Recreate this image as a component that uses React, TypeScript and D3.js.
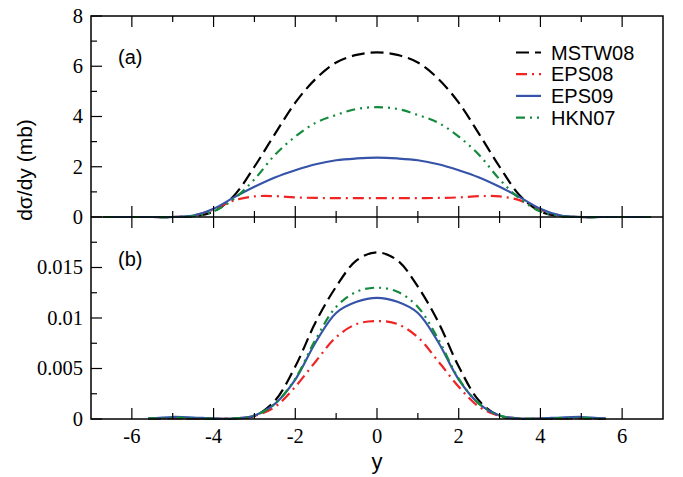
import React from "react";
import * as d3 from "d3";

// ---------- data ----------
const xA = [-6.7, -6, -5.5, -5, -4.5, -4, -3.5, -3, -2.5, -2, -1.5, -1, -0.5, 0, 0.5, 1, 1.5, 2, 2.5, 3, 3.5, 4, 4.5, 5, 5.5, 6, 6.7];
const mstwA = [0, 0, 0, 0, 0.03, 0.22, 0.85, 2.0, 3.3, 4.55, 5.5, 6.15, 6.45, 6.55, 6.45, 6.15, 5.5, 4.55, 3.3, 2.0, 0.85, 0.22, 0.03, 0, 0, 0, 0];
const eps08A = [0, 0, 0, 0, 0.05, 0.3, 0.66, 0.82, 0.83, 0.78, 0.76, 0.75, 0.75, 0.75, 0.75, 0.75, 0.76, 0.78, 0.83, 0.82, 0.66, 0.3, 0.05, 0, 0, 0, 0];
const eps09A = [0, 0, 0, 0, 0.06, 0.33, 0.78, 1.2, 1.57, 1.86, 2.1, 2.26, 2.33, 2.36, 2.33, 2.26, 2.1, 1.86, 1.57, 1.2, 0.78, 0.33, 0.06, 0, 0, 0, 0];
const hknA = [0, 0, 0, 0, 0.03, 0.22, 0.72, 1.5, 2.47, 3.2, 3.75, 4.06, 4.3, 4.37, 4.3, 4.06, 3.75, 3.2, 2.47, 1.5, 0.72, 0.22, 0.03, 0, 0, 0, 0];

const xB = [-5.6, -5, -4.5, -4, -3.5, -3, -2.5, -2, -1.5, -1, -0.5, 0, 0.5, 1, 1.5, 2, 2.5, 3, 3.5, 4, 4.5, 5, 5.6];
const mstwB = [0.00002, 0.00008, 0.00005, 0.00002, 0.00003, 0.0003, 0.0018, 0.0052, 0.0096, 0.0131, 0.0157, 0.0165, 0.0157, 0.0131, 0.0096, 0.0052, 0.0018, 0.0003, 0.00003, 0.00002, 0.00005, 0.00008, 0.00002];
const eps08B = [0.00002, 0.00008, 0.00005, 0.00003, 0.00005, 0.0003, 0.0012, 0.0032, 0.0057, 0.0081, 0.0094, 0.0097, 0.0094, 0.0081, 0.0057, 0.0032, 0.0012, 0.0003, 0.00005, 0.00003, 0.00005, 0.00008, 0.00002];
const eps09B = [0.00005, 0.0002, 0.00015, 0.00005, 0.00005, 0.00035, 0.0015, 0.0039, 0.0076, 0.0105, 0.0116, 0.012, 0.0116, 0.0105, 0.0076, 0.0039, 0.0015, 0.00035, 0.00005, 0.00005, 0.00015, 0.0002, 0.00005];
const hknB = [0.00003, 0.00012, 0.00008, 0.00003, 0.00005, 0.00035, 0.0015, 0.004, 0.0079, 0.0111, 0.0126, 0.013, 0.0126, 0.0111, 0.0079, 0.004, 0.0015, 0.00035, 0.00005, 0.00003, 0.00008, 0.00012, 0.00003];

const seriesNames = ["MSTW08", "EPS08", "EPS09", "HKN07"];
const xTicksMajor = [-6, -4, -2, 0, 2, 4, 6];
const xTicksMinor = [-5, -3, -1, 1, 3, 5];
const yTicksA = [0, 2, 4, 6, 8];
const yMinorA = [1, 3, 5, 7];
const yTicksB = [0, 0.005, 0.01, 0.015];
const yTickLabelsB = ["0", "0.005", "0.01", "0.015"];
const yMinorB = [0.0025, 0.0075, 0.0125, 0.0175];

// ---------- styles ----------
const colors = ["#000000", "#f02424", "#3553a8", "#148a3c"];
const dashes = ["13,6", "11,5,2,5", "", "9,5,2,5,2,5"];

const L = 91, R = 663, T = 16, M = 217, B = 419;

export default function App() {
  const x = d3.scaleLinear().domain([-7, 7]).range([L, R]);
  const yA = d3.scaleLinear().domain([0, 8]).range([M, T]);
  const yB = d3.scaleLinear().domain([0, 0.02]).range([B, M]);

  const seriesA = [mstwA, eps08A, eps09A, hknA];
  const seriesB = [mstwB, eps08B, eps09B, hknB];

  const curve = d3.curveCatmullRom.alpha(0.5);
  const lineA = (vals: number[]) =>
    d3.line<number>().x((_, i) => x(xA[i])).y((v) => yA(v)).curve(curve)(vals) || "";
  const lineB = (vals: number[]) =>
    d3.line<number>().x((_, i) => x(xB[i])).y((v) => yB(v)).curve(curve)(vals) || "";

  const serifFont = "'Liberation Serif', 'DejaVu Serif', 'Times New Roman', Times, serif";
  const sansFont = "'Liberation Sans', Arial, Helvetica, sans-serif";
  const maj = 11, mnr = 6;

  return (
    <svg width={683} height={477} style={{ position: "absolute", left: 0, top: 0, background: "#fff" }}>
      <rect x={0} y={0} width={683} height={477} fill="#fff" />
      {/* curves panel a */}
      {seriesA.map((s, i) => (
        <path key={"a" + i} d={lineA(s)} fill="none" stroke={colors[i]} strokeWidth={2.2}
          strokeDasharray={dashes[i] || undefined} />
      ))}
      {/* curves panel b */}
      {seriesB.map((s, i) => (
        <path key={"b" + i} d={lineB(s)} fill="none" stroke={colors[i]} strokeWidth={2.2}
          strokeDasharray={dashes[i] || undefined} />
      ))}

      {/* frames */}
      <rect x={L} y={T} width={R - L} height={B - T} fill="none" stroke="#000" strokeWidth={1.5} />
      <line x1={L} x2={R} y1={M} y2={M} stroke="#000" strokeWidth={1.5} />

      {/* x ticks */}
      {xTicksMajor.map((t) => (
        <g key={"xm" + t} stroke="#000" strokeWidth={1.2}>
          <line x1={x(t)} x2={x(t)} y1={T} y2={T + maj} />
          <line x1={x(t)} x2={x(t)} y1={M - maj} y2={M + maj} />
          <line x1={x(t)} x2={x(t)} y1={B} y2={B - maj} />
        </g>
      ))}
      {xTicksMinor.map((t) => (
        <g key={"xn" + t} stroke="#000" strokeWidth={1.2}>
          <line x1={x(t)} x2={x(t)} y1={T} y2={T + mnr} />
          <line x1={x(t)} x2={x(t)} y1={M - mnr} y2={M + mnr} />
          <line x1={x(t)} x2={x(t)} y1={B} y2={B - mnr} />
        </g>
      ))}
      <g fontFamily={serifFont} fontSize={20.5} fill="#000">
        {xTicksMajor.map((t) => (
          <text key={"xl" + t} x={x(t)} y={443} textAnchor="middle" fontFamily={serifFont}>
            {t < 0 ? "-" + Math.abs(t) : String(t)}
          </text>
        ))}
        {yTicksA.map((t) => (
          <text key={"yal" + t} x={83} y={yA(t)} dy="0.34em" textAnchor="end" fontFamily={serifFont}>{t}</text>
        ))}
        {yTicksB.map((t, i) => (
          <text key={"ybl" + t} x={83} y={yB(t)} dy="0.34em" textAnchor="end" fontFamily={serifFont}>{yTickLabelsB[i]}</text>
        ))}
      </g>

      {/* y ticks */}
      {yTicksA.map((t) => (
        <line key={"ya" + t} x1={L} x2={L + maj} y1={yA(t)} y2={yA(t)} stroke="#000" strokeWidth={1.2} />
      ))}
      {yMinorA.map((t) => (
        <line key={"yan" + t} x1={L} x2={L + mnr} y1={yA(t)} y2={yA(t)} stroke="#000" strokeWidth={1.2} />
      ))}
      {yTicksB.map((t) => (
        <line key={"yb" + t} x1={L} x2={L + maj} y1={yB(t)} y2={yB(t)} stroke="#000" strokeWidth={1.2} />
      ))}
      {yMinorB.map((t) => (
        <line key={"ybn" + t} x1={L} x2={L + mnr} y1={yB(t)} y2={yB(t)} stroke="#000" strokeWidth={1.2} />
      ))}

      {/* axis titles */}
      <text x={377} y={469} textAnchor="middle" fontFamily={sansFont} fontSize={22} fill="#000">y</text>
      <text transform="translate(32,170) rotate(-90)" textAnchor="middle" fontFamily={sansFont} fontSize={21} fill="#000">dσ/dy (mb)</text>

      {/* panel labels */}
      <text x={118} y={64} fontFamily={sansFont} fontSize={20} fill="#000">(a)</text>
      <text x={118} y={266} fontFamily={sansFont} fontSize={20} fill="#000">(b)</text>

      {/* legend */}
      {seriesNames.map((n, i) => {
        const cy = 52.5 + i * 21.7;
        return (
          <g key={"lg" + n}>
            <line x1={516} x2={541} y1={cy} y2={cy} stroke={colors[i]} strokeWidth={2.2}
              strokeDasharray={dashes[i] || undefined} />
            <text x={551} y={cy} dy="0.36em" fontFamily={sansFont} fontSize={20} fill="#000">{n}</text>
          </g>
        );
      })}
    </svg>
  );
}
